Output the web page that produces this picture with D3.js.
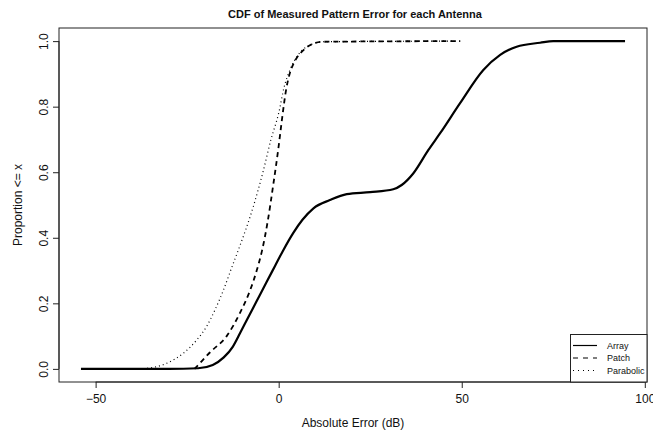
<!DOCTYPE html>
<html>
<head>
<meta charset="utf-8">
<script src="https://cdn.jsdelivr.net/npm/d3@7"></script>
<style>
  html, body { margin: 0; padding: 0; background: #fff; }
  svg { display: block; font-family: "Liberation Sans", Arial, sans-serif; }
</style>
</head>
<body>
<svg id="chart" width="653" height="433"></svg>
<script>
// ---- Data ----
const titleText = "CDF of Measured Pattern Error for each Antenna";
const xLabel = "Absolute Error (dB)";
const yLabel = "Proportion <= x";
const xTicks = [-50, 0, 50, 100];
const yTicks = [0, 0.2, 0.4, 0.6, 0.8, 1.0];
const seriesNames = ["Array", "Patch", "Parabolic"];

const arrayX = [-54, -30, -22, -18, -15, -12.5, -10.5, -8.7, -6, -3.3, -1, 1.3, 4, 6.5, 9.5, 14, 18.6, 25, 31.3, 33.6, 36.8, 40.9, 44.1, 49.5, 55.9, 60.5, 65, 71.4, 75, 94.6];
const arrayP = [0, 0, 0.002, 0.012, 0.035, 0.068, 0.11, 0.149, 0.207, 0.265, 0.314, 0.363, 0.415, 0.455, 0.49, 0.515, 0.533, 0.539, 0.548, 0.561, 0.597, 0.668, 0.719, 0.81, 0.912, 0.958, 0.983, 0.995, 1.0, 1.0];

const patchX = [-23, -22.4, -18.8, -14.2, -10.6, -7.8, -6, -4.5, -3, -1.5, 0, 1, 2, 3, 4, 5, 7, 9, 12, 49.6];
const patchP = [0, 0.007, 0.05, 0.10, 0.17, 0.24, 0.30, 0.363, 0.45, 0.56, 0.68, 0.77, 0.85, 0.9, 0.93, 0.95, 0.975, 0.99, 0.998, 1];

const paraX = [-37, -30.6, -26, -22.4, -19.7, -17.4, -15.1, -12.8, -11, -6.8, -4.3, -2.1, 0, 1.5, 3, 4.3, 5.8, 8.6, 12, 49.6];
const paraP = [0, 0.017, 0.048, 0.088, 0.129, 0.18, 0.24, 0.31, 0.363, 0.5, 0.6, 0.7, 0.78, 0.86, 0.91, 0.94, 0.965, 0.988, 0.998, 1];

// ---- Layout ----
const svg = d3.select("#chart");
const box = { left: 59, right: 647, top: 28, bottom: 382 };

const x = d3.scaleLinear().domain([-60, 100.6]).range([box.left, box.right]);
const y = d3.scaleLinear().domain([-0.04, 1.04]).range([box.bottom, box.top]);

const styles = [
  { name: seriesNames[0], xs: arrayX, ps: arrayP, width: 2.2, dash: null, legDash: null },
  { name: seriesNames[1], xs: patchX, ps: patchP, width: 1.8, dash: "5,4", legDash: "5,5" },
  { name: seriesNames[2], xs: paraX, ps: paraP, width: 1.2, dash: "1,3", legDash: "1,4" }
];

const line = d3.line()
  .x(d => x(d[0]))
  .y(d => y(d[1]))
  .curve(d3.curveMonotoneX);

styles.forEach(s => {
  const pts = s.xs.map((v, i) => [v, s.ps[i]]);
  svg.append("path")
    .attr("d", line(pts))
    .attr("fill", "none")
    .attr("stroke", "#000")
    .attr("stroke-width", s.width)
    .attr("stroke-dasharray", s.dash);
});

// Box
svg.append("rect")
  .attr("x", box.left).attr("y", box.top)
  .attr("width", box.right - box.left).attr("height", box.bottom - box.top)
  .attr("fill", "none").attr("stroke", "#222").attr("stroke-width", 1);

// X axis (R style)
const xAxis = d3.axisBottom(x).tickValues(xTicks).tickSize(6).tickPadding(6)
  .tickFormat(d => d < 0 ? "\u2212" + Math.abs(d) : String(d));
const gx = svg.append("g").attr("transform", `translate(0,${box.bottom})`).call(xAxis);
gx.select(".domain").attr("d", `M${x(xTicks[0])},0H${x(xTicks[xTicks.length - 1])}`).attr("stroke", "#222");
gx.selectAll(".tick line").attr("stroke", "#222");
gx.selectAll("text").attr("font-size", 12).attr("fill", "#111").attr("font-family", "Liberation Sans, Arial, sans-serif");

// Y axis (R style, rotated labels)
const yAxis = d3.axisLeft(y).tickValues(yTicks).tickSize(6).tickFormat(d3.format(".1f"));
const gy = svg.append("g").attr("transform", `translate(${box.left},0)`).call(yAxis);
gy.select(".domain").attr("d", `M0,${y(yTicks[0])}V${y(yTicks[yTicks.length - 1])}`).attr("stroke", "#222");
gy.selectAll(".tick line").attr("stroke", "#222");
gy.selectAll(".tick text")
  .attr("x", null).attr("dy", null)
  .attr("transform", "translate(-11,0) rotate(-90)")
  .attr("text-anchor", "middle")
  .attr("font-size", 12).attr("fill", "#111")
  .attr("font-family", "Liberation Sans, Arial, sans-serif");

// Title
svg.append("text")
  .attr("x", 355).attr("y", 18)
  .attr("text-anchor", "middle")
  .attr("font-size", 11).attr("font-weight", "bold").attr("fill", "#111")
  .text(titleText);

// Axis labels
svg.append("text")
  .attr("x", (box.left + box.right) / 2).attr("y", 427)
  .attr("text-anchor", "middle").attr("font-size", 12).attr("fill", "#111")
  .text(xLabel);

svg.append("text")
  .attr("transform", `translate(22,${(box.top + box.bottom) / 2}) rotate(-90)`)
  .attr("text-anchor", "middle").attr("font-size", 12).attr("fill", "#111")
  .text(yLabel);

// Legend (bottom-right, flush with the plot box)
const leg = { x: 570, y: 334, w: box.right - 570, h: box.bottom - 334 };
svg.append("rect")
  .attr("x", leg.x + 0.5).attr("y", leg.y + 0.5)
  .attr("width", leg.w - 0.5).attr("height", leg.h - 0.5)
  .attr("fill", "#fff").attr("stroke", "#222").attr("stroke-width", 1);
const legY = d3.scalePoint().domain(seriesNames).range([leg.y + 11.5, leg.y + 36.5]);
styles.forEach(s => {
  svg.append("line")
    .attr("x1", leg.x + 3).attr("x2", leg.x + 27)
    .attr("y1", legY(s.name)).attr("y2", legY(s.name))
    .attr("stroke", "#000").attr("stroke-width", 1.2)
    .attr("stroke-dasharray", s.legDash);
  svg.append("text")
    .attr("x", leg.x + 37).attr("y", legY(s.name)).attr("dy", "0.35em")
    .attr("font-size", 9).attr("fill", "#111")
    .text(s.name);
});
</script>
</body>
</html>
